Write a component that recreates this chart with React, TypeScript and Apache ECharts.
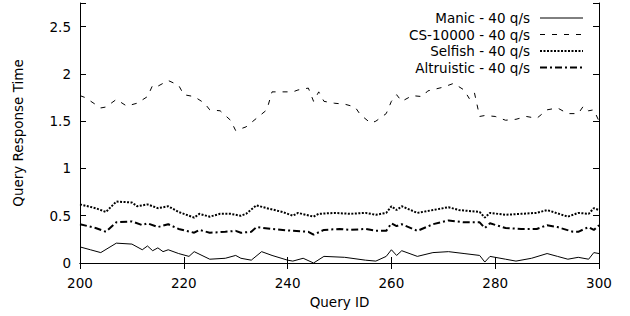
import React, { useEffect, useRef } from "react";
import * as echarts from "echarts";

const xTicks = [200, 220, 240, 260, 280, 300];
const yTicks = [0, 0.5, 1, 1.5, 2, 2.5];

const seriesNames = [
  "Manic - 40 q/s",
  "CS-10000 - 40 q/s",
  "Selfish - 40 q/s",
  "Altruistic - 40 q/s",
];

const manic: [number, number][] = [
  [200, 0.17], [202, 0.14], [204, 0.11], [207, 0.21], [210, 0.2], [212, 0.14],
  [213, 0.18], [214, 0.13], [215, 0.16], [216, 0.12], [217, 0.14], [219, 0.1],
  [221, 0.07], [222, 0.12], [225, 0.04], [228, 0.05], [230, 0.08], [231, 0.05],
  [233, 0.03], [235, 0.12], [237, 0.08], [240, 0.03], [241, 0.02], [243, 0.05],
  [245, 0.0], [247, 0.07], [251, 0.06], [255, 0.03], [257, 0.02], [259, 0.07],
  [260, 0.14], [261, 0.08], [262, 0.13], [265, 0.07], [268, 0.11], [271, 0.12],
  [274, 0.1], [277, 0.08], [278, 0.01], [279, 0.07], [282, 0.04], [284, 0.02],
  [287, 0.05], [290, 0.1], [292, 0.07], [294, 0.04], [296, 0.06], [298, 0.04],
  [299, 0.11], [300, 0.1],
];

const cs10000: [number, number][] = [
  [200, 1.77], [201, 1.75], [204, 1.64], [205, 1.65], [207, 1.73], [209, 1.66],
  [211, 1.69], [213, 1.76], [214, 1.88], [215, 1.87], [217, 1.93], [219, 1.88],
  [220, 1.78], [222, 1.76], [224, 1.69], [225, 1.62], [227, 1.61], [229, 1.51],
  [230, 1.4], [232, 1.44], [234, 1.53], [236, 1.62], [237, 1.81], [239, 1.81],
  [241, 1.81], [242, 1.83], [244, 1.85], [245, 1.71], [246, 1.81], [247, 1.71],
  [249, 1.69], [251, 1.68], [253, 1.65], [254, 1.57], [256, 1.48], [257, 1.5],
  [259, 1.58], [260, 1.71], [261, 1.78], [262, 1.71], [264, 1.77], [266, 1.76],
  [267, 1.82], [270, 1.86], [272, 1.9], [274, 1.83], [275, 1.74], [276, 1.8],
  [277, 1.55], [278, 1.56], [280, 1.55], [282, 1.51], [284, 1.52], [286, 1.55],
  [288, 1.53], [290, 1.62], [292, 1.64], [294, 1.58], [296, 1.58], [297, 1.66],
  [298, 1.61], [299, 1.62], [300, 1.5],
];

const selfish: [number, number][] = [
  [200, 0.62], [203, 0.58], [205, 0.54], [207, 0.65], [210, 0.64], [211, 0.6],
  [213, 0.62], [215, 0.58], [217, 0.6], [219, 0.54], [222, 0.48], [223, 0.52],
  [225, 0.49], [227, 0.52], [229, 0.52], [231, 0.5], [232, 0.52], [234, 0.61],
  [236, 0.58], [239, 0.54], [241, 0.5], [242, 0.53], [245, 0.49], [246, 0.52],
  [249, 0.53], [252, 0.52], [255, 0.53], [257, 0.51], [259, 0.53], [260, 0.6],
  [261, 0.56], [262, 0.6], [265, 0.53], [268, 0.56], [271, 0.59], [273, 0.56],
  [277, 0.54], [278, 0.48], [279, 0.53], [282, 0.51], [285, 0.52], [288, 0.53],
  [290, 0.56], [294, 0.49], [296, 0.53], [298, 0.52], [299, 0.58], [300, 0.56],
];

const altruistic: [number, number][] = [
  [200, 0.41], [203, 0.37], [205, 0.33], [207, 0.43], [210, 0.44], [212, 0.4],
  [213, 0.42], [215, 0.38], [217, 0.41], [219, 0.36], [222, 0.32], [223, 0.35],
  [225, 0.32], [228, 0.33], [230, 0.34], [231, 0.32], [233, 0.33], [234, 0.38],
  [237, 0.36], [241, 0.34], [244, 0.33], [245, 0.3], [247, 0.35], [250, 0.36],
  [252, 0.35], [255, 0.36], [257, 0.34], [259, 0.34], [260, 0.42], [261, 0.39],
  [262, 0.41], [265, 0.34], [268, 0.41], [271, 0.45], [274, 0.43], [277, 0.43],
  [278, 0.37], [279, 0.42], [282, 0.37], [285, 0.36], [288, 0.36], [290, 0.4],
  [292, 0.38], [295, 0.33], [296, 0.33], [298, 0.38], [299, 0.35], [300, 0.4],
];

const FONT = "DejaVu Sans";
const FS = 13.5;

export default function App() {
  const ref = useRef<HTMLDivElement>(null);

  useEffect(() => {
    if (!ref.current) return;
    const chart = echarts.init(ref.current, undefined, { renderer: "svg" });

    const xMin = xTicks[0];
    const xMax = xTicks[xTicks.length - 1];
    const xInt = xTicks[1] - xTicks[0];
    const yInt = yTicks[1] - yTicks[0];
    const yMax = 2.75;

    const axisCommon = {
      axisLine: { show: true, lineStyle: { color: "#000", width: 1 } },
      axisTick: { show: true, inside: true, length: 6, lineStyle: { color: "#000", width: 1 } },
      splitLine: { show: false },
    };

    const lineStyles: any[] = [
      { color: "#000", width: 1, type: "solid" },
      { color: "#000", width: 1, type: [5, 7] },
      { color: "#000", width: 2, type: [2, 1.5] },
      { color: "#000", width: 2, type: [7, 3, 2, 3] },
    ];
    const datas = [manic, cs10000, selfish, altruistic];

    const legendRowY = [18, 34.5, 51, 67.5];
    const legendGraphics: any[] = [];
    seriesNames.forEach((name, i) => {
      legendGraphics.push({
        type: "text",
        x: 530,
        y: legendRowY[i],
        style: {
          text: name,
          fontFamily: FONT,
          fontSize: FS,
          fill: "#000",
          align: "right",
          verticalAlign: "middle",
        },
        silent: true,
      });
      const ls = lineStyles[i];
      legendGraphics.push({
        type: "line",
        shape: { x1: 540, y1: legendRowY[i], x2: 583, y2: legendRowY[i] },
        style: {
          stroke: "#000",
          lineWidth: ls.width,
          lineDash: Array.isArray(ls.type) ? ls.type : null,
        },
        silent: true,
      });
    });

    chart.setOption({
      animation: false,
      backgroundColor: "#fff",
      textStyle: { fontFamily: FONT, color: "#000" },
      grid: { left: 80, right: 31, top: 3, bottom: 53, containLabel: false },
      graphic: legendGraphics,
      xAxis: [
        {
          type: "value",
          min: xMin,
          max: xMax,
          interval: xInt,
          position: "bottom",
          name: "Query ID",
          nameLocation: "middle",
          nameGap: 31,
          nameTextStyle: { fontFamily: FONT, fontSize: FS, color: "#000" },
          axisLabel: { fontFamily: FONT, fontSize: FS, color: "#000", margin: 13 },
          ...axisCommon,
        },
        {
          type: "value",
          min: xMin,
          max: xMax,
          interval: xInt,
          position: "top",
          axisLabel: { show: false },
          ...axisCommon,
        },
      ],
      yAxis: [
        {
          type: "value",
          min: 0,
          max: yMax,
          interval: yInt,
          position: "left",
          name: "Query Response Time",
          nameLocation: "middle",
          nameGap: 55,
          nameTextStyle: { fontFamily: FONT, fontSize: FS, color: "#000" },
          axisLabel: {
            fontFamily: FONT,
            fontSize: FS,
            color: "#000",
            margin: 9,
            formatter: (v: number) => (v > 2.5 + 1e-9 ? "" : String(v)),
          },
          ...axisCommon,
        },
        {
          type: "value",
          min: 0,
          max: yMax,
          interval: yInt,
          position: "right",
          axisLabel: { show: false },
          ...axisCommon,
        },
      ],
      series: seriesNames.map((name, i) => ({
        name,
        type: "line",
        xAxisIndex: 0,
        yAxisIndex: 0,
        data: datas[i],
        symbol: "none",
        showSymbol: false,
        lineStyle: lineStyles[i],
        itemStyle: { color: "#000" },
        silent: true,
      })),
    });

    return () => chart.dispose();
  }, []);

  return <div ref={ref} style={{ width: 630, height: 316, position: "absolute", left: 0, top: 0 }} />;
}
